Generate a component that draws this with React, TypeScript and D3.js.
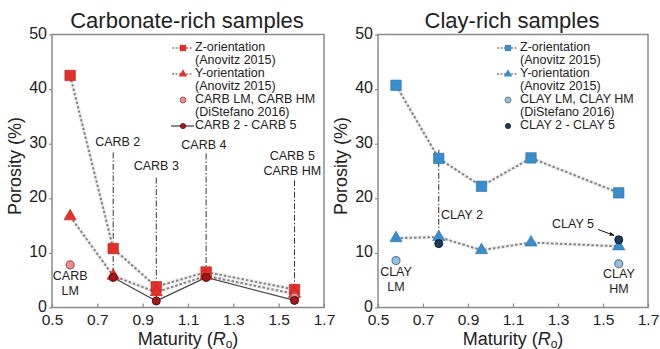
import React, { useRef, useEffect } from 'react';
import * as d3 from 'd3';

// shared x positions (vitrinite reflectance)
const maturity = [0.58, 0.77, 0.96, 1.18, 1.57];

// carbonate-rich panel
const carbZ = [42.5, 10.8, 3.8, 6.5, 3.3];
const carbY = [16.7, 5.8, 2.8, 5.8, 2.5];
const carbRefX = [0.58, 1.57];
const carbRef = [7.8, 1.9];
const carbSampleX = [0.77, 0.96, 1.18, 1.57];
const carbSample = [5.5, 1.2, 5.5, 1.3];

// clay-rich panel
const clayZ = [40.7, 27.3, 22.2, 27.4, 21.0];
const clayY = [12.7, 12.9, 10.5, 11.9, 11.2];
const clayRefX = [0.58, 1.57];
const clayRef = [8.6, 8.0];
const claySampleX = [0.77, 1.57];
const claySample = [11.7, 12.4];

const xTicks = [0.5, 0.7, 0.9, 1.1, 1.3, 1.5, 1.7];
const yTicks = [0, 10, 20, 30, 40, 50];

const FONT = "'Liberation Sans', Arial, Helvetica, sans-serif";
const TEXT = '#222';

const panels = [
  {
    title: 'Carbonate-rich samples',
    box: { left: 52, right: 324, top: 34.5, bottom: 307.5 },
    z: carbZ, y: carbY, refX: carbRefX, ref: carbRef, sampX: carbSampleX, samp: carbSample,
    sampLine: true,
    main: '#e2302a', mainStroke: '#b5221d',
    refFill: '#ef8c8a', refStroke: '#a05a5a',
    sampFill: '#a3171b', sampStroke: '#5a0c0c',
    legendX: 183,
    refLabel: ['CARB LM, CARB HM', '(DiStefano 2016)'],
    sampLabel: 'CARB 2 - CARB 5',
    notes: [
      { lines: ['CARB 2'], x: 0.79, y: 30.2, lx: 0.77, top: 28.4, bot: 5.5 },
      { lines: ['CARB 3'], x: 0.96, y: 25.8, lx: 0.96, top: 23.8, bot: 1.2 },
      { lines: ['CARB 4'], x: 1.17, y: 29.5, lx: 1.18, top: 28.2, bot: 5.5 },
      { lines: ['CARB 5', 'CARB HM'], x: 1.56, y: 27.5, lx: 1.57, top: 23.3, bot: 1.3 },
      { lines: ['CARB', 'LM'], x: 0.58, y: 5.5 },
    ],
  },
  {
    title: 'Clay-rich samples',
    box: { left: 378, right: 648, top: 34.5, bottom: 307.5 },
    z: clayZ, y: clayY, refX: clayRefX, ref: clayRef, sampX: claySampleX, samp: claySample,
    sampLine: false,
    main: '#3a8dcb', mainStroke: '#2b74ad',
    refFill: '#93c1e4', refStroke: '#687c8e',
    sampFill: '#1f3b5c', sampStroke: '#0e1e30',
    legendX: 508,
    refLabel: ['CLAY LM, CLAY HM', '(DiStefano 2016)'],
    sampLabel: 'CLAY 2 - CLAY 5',
    notes: [
      { lines: ['CLAY 2'], x: 0.873, y: 16.8, lx: 0.77, top: 28.9, bot: 11.7 },
      { lines: ['CLAY 5'], x: 1.367, y: 15.2, arrow: [1.478, 14.3, 1.549, 13.2] },
      { lines: ['CLAY', 'LM'], x: 0.58, y: 6.4 },
      { lines: ['CLAY', 'HM'], x: 1.571, y: 5.9 },
    ],
  },
];

const App = () => {
  const svgRef = useRef<SVGSVGElement>(null);

  useEffect(() => {
    const svg = d3.select(svgRef.current);
    svg.selectAll('*').remove();

    svg.append('defs').append('marker')
      .attr('id', 'arrowhead')
      .attr('viewBox', '0 0 10 10')
      .attr('refX', 9).attr('refY', 5)
      .attr('markerWidth', 5).attr('markerHeight', 5)
      .attr('orient', 'auto')
      .append('path').attr('d', 'M0,1 L10,5 L0,9 z').attr('fill', '#111');

    const sq = d3.symbol().type(d3.symbolSquare);
    const tri = d3.symbol().type(d3.symbolTriangle);

    panels.forEach(p => {
      const { left, right, top, bottom } = p.box;
      const x = d3.scaleLinear().domain([0.5, 1.7]).range([left, right]);
      const y = d3.scaleLinear().domain([0, 50]).range([bottom, top]);
      const g = svg.append('g').style('font-family', FONT);

      // frame
      g.append('rect')
        .attr('x', left).attr('y', top)
        .attr('width', right - left).attr('height', bottom - top)
        .attr('fill', 'white').attr('stroke', '#8a8a8a').attr('stroke-width', 1.5);

      // axes
      const yAxis = g.append('g')
        .attr('transform', `translate(${left},0)`)
        .call(d3.axisLeft(y).tickValues(yTicks).tickSize(3).tickPadding(2));
      const xAxis = g.append('g')
        .attr('transform', `translate(0,${bottom})`)
        .call(d3.axisBottom(x).tickValues(xTicks).tickFormat(d3.format('.1f')).tickSizeInner(-4).tickSizeOuter(0).tickPadding(6));
      [yAxis, xAxis].forEach(a => {
        a.select('.domain').remove();
        a.selectAll('line').attr('stroke', '#8a8a8a').attr('stroke-width', 1.2);
        a.selectAll('text').attr('fill', TEXT).style('font-size', '16px').style('font-family', FONT);
      });
      yAxis.selectAll('text').attr('dy', '0.22em');
      xAxis.selectAll('text').style('font-size', '15.5px');

      // titles and axis labels
      g.append('text')
        .attr('x', (left + right) / 2 - 1).attr('y', 28)
        .attr('text-anchor', 'middle').attr('fill', TEXT)
        .style('font-size', '22px').text(p.title);

      g.append('text')
        .attr('transform', `translate(${left - 31},${(top + bottom) / 2 - 5}) rotate(-90)`)
        .attr('text-anchor', 'middle').attr('fill', TEXT)
        .style('font-size', '18px').text('Porosity (%)');

      const xl = g.append('text')
        .attr('x', (left + right) / 2).attr('y', 345)
        .attr('text-anchor', 'middle').attr('fill', TEXT)
        .style('font-size', '18px');
      xl.append('tspan').text('Maturity (');
      xl.append('tspan').style('font-style', 'italic').text('R');
      xl.append('tspan').attr('dy', 3).style('font-size', '12px').text('o');
      xl.append('tspan').attr('dy', -3).text(')');

      // annotation leader lines
      p.notes.forEach(n => {
        if (n.lx !== undefined) {
          g.append('line')
            .attr('x1', x(n.lx)).attr('x2', x(n.lx))
            .attr('y1', y(n.top)).attr('y2', y(n.bot))
            .attr('stroke', '#333').attr('stroke-width', 1)
            .attr('stroke-dasharray', '6,2,1.5,2');
        }
        if (n.arrow) {
          g.append('line')
            .attr('x1', x(n.arrow[0])).attr('y1', y(n.arrow[1]))
            .attr('x2', x(n.arrow[2])).attr('y2', y(n.arrow[3]))
            .attr('stroke', '#111').attr('stroke-width', 1)
            .attr('marker-end', 'url(#arrowhead)');
        }
      });

      // series lines
      const line = d3.line<number>().x((d, i) => x(maturity[i])).y(d => y(d));
      [p.z, p.y].forEach(s => {
        g.append('path').datum(s)
          .attr('d', line).attr('fill', 'none')
          .attr('stroke', '#f0f0f0').attr('stroke-width', 4);
        g.append('path').datum(s)
          .attr('d', line).attr('fill', 'none')
          .attr('stroke', '#858585').attr('stroke-width', 2)
          .attr('stroke-dasharray', '2.5,2');
      });
      if (p.sampLine) {
        const sl = d3.line<number>().x((d, i) => x(p.sampX[i])).y(d => y(d));
        g.append('path').datum(p.samp)
          .attr('d', sl).attr('fill', 'none')
          .attr('stroke', '#4a4a4a').attr('stroke-width', 1.3);
      }

      // markers
      g.selectAll(null).data(p.z).join('path')
        .attr('transform', (d, i) => `translate(${x(maturity[i])},${y(d)})`)
        .attr('d', sq.size(110)())
        .attr('fill', p.main).attr('stroke', p.mainStroke).attr('stroke-width', 0.6);
      g.selectAll(null).data(p.y).join('path')
        .attr('transform', (d, i) => `translate(${x(maturity[i])},${y(d)})`)
        .attr('d', tri.size(65)())
        .attr('fill', p.main).attr('stroke', p.mainStroke).attr('stroke-width', 0.6);
      g.selectAll(null).data(p.ref).join('circle')
        .attr('cx', (d, i) => x(p.refX[i])).attr('cy', d => y(d)).attr('r', 4)
        .attr('fill', p.refFill).attr('stroke', p.refStroke).attr('stroke-width', 1.2);
      g.selectAll(null).data(p.samp).join('circle')
        .attr('cx', (d, i) => x(p.sampX[i])).attr('cy', d => y(d)).attr('r', 4)
        .attr('fill', p.sampFill).attr('stroke', p.sampStroke).attr('stroke-width', 1);

      // annotation text
      p.notes.forEach(n => {
        const t = g.append('text')
          .attr('x', x(n.x)).attr('y', y(n.y))
          .attr('text-anchor', 'middle').attr('dominant-baseline', 'middle')
          .attr('fill', TEXT).style('font-size', '12.5px');
        n.lines.forEach((l, i) => {
          t.append('tspan').attr('x', x(n.x)).attr('dy', i === 0 ? 0 : 15).text(l);
        });
      });

      // legend
      const lx = p.legendX;
      const tx = lx + 12;
      const rows = [48, 61, 74, 87, 100, 113, 126];
      const lg = g.append('g');
      const addText = (txt: string, yy: number) =>
        lg.append('text').attr('x', tx).attr('y', yy).attr('dominant-baseline', 'middle')
          .attr('fill', TEXT).style('font-size', '12.5px').text(txt);
      const dotted = (yy: number) =>
        lg.append('line').attr('x1', lx - 11).attr('x2', lx + 10).attr('y1', yy).attr('y2', yy)
          .attr('stroke', '#858585').attr('stroke-width', 1.5).attr('stroke-dasharray', '2,1.5');

      dotted(rows[0]);
      lg.append('path').attr('transform', `translate(${lx},${rows[0]})`).attr('d', sq.size(40)()).attr('fill', p.main);
      addText('Z-orientation', rows[0]);
      addText('(Anovitz 2015)', rows[1]);

      dotted(rows[2]);
      lg.append('path').attr('transform', `translate(${lx},${rows[2]})`).attr('d', tri.size(30)()).attr('fill', p.main);
      addText('Y-orientation', rows[2]);
      addText('(Anovitz 2015)', rows[3]);

      lg.append('circle').attr('cx', lx).attr('cy', rows[4]).attr('r', 3)
        .attr('fill', p.refFill).attr('stroke', p.refStroke).attr('stroke-width', 1);
      addText(p.refLabel[0], rows[4]);
      addText(p.refLabel[1], rows[5]);

      if (p.sampLine) {
        lg.append('line').attr('x1', lx - 12).attr('x2', lx + 11).attr('y1', rows[6]).attr('y2', rows[6])
          .attr('stroke', '#4a4a4a').attr('stroke-width', 1.3);
      }
      lg.append('circle').attr('cx', lx).attr('cy', rows[6]).attr('r', 2.6)
        .attr('fill', p.sampFill).attr('stroke', p.sampStroke).attr('stroke-width', 0.8);
      addText(p.sampLabel, rows[6]);
    });
  }, []);

  return (
    <svg ref={svgRef} width="660" height="349" style={{ position: 'absolute', left: 0, top: 0, background: 'white' }}></svg>
  );
};

export default App;
